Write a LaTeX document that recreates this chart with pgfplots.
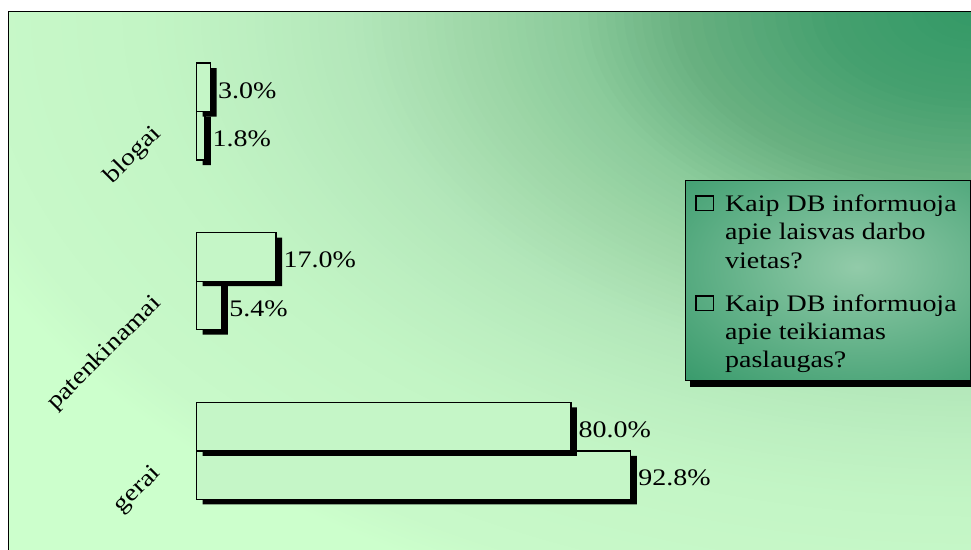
\documentclass[border=0pt]{standalone}
\usepackage{pgfplots}
\pgfplotsset{compat=1.18}
\usepackage{fontspec}
\setmainfont{Liberation Serif}[FakeStretch=1.18]

% background gradient stops (dark corner -> pale field)
\definecolor{bgA}{HTML}{339966}
\definecolor{bgB}{HTML}{45A06F}
\definecolor{bgC}{HTML}{68B080}
\definecolor{bgD}{HTML}{8BCB9B}
\definecolor{bgE}{HTML}{A0D8A9}
\definecolor{bgF}{HTML}{B2E6B9}
\definecolor{bgG}{HTML}{BCEFC0}
\definecolor{bgH}{HTML}{C3F5C5}
\definecolor{bgI}{HTML}{C8F9C9}
\definecolor{bgJ}{HTML}{CCFFCC}
\definecolor{barFill}{HTML}{C5F6C7}
\definecolor{legDark}{HTML}{36996A}
\definecolor{legLight}{HTML}{92CBA9}

\pgfdeclarelayer{chartback}
\pgfdeclarelayer{legendback}
\pgfsetlayers{chartback,legendback,main}

% line struts for the legend rows
\newcommand\lstrut[2]{\rule[-#1bp]{0pt}{#2bp}}

\begin{document}
\fontsize{23.7bp}{28.4bp}\selectfont
\begin{tikzpicture}[x=1bp,y=1bp]
\useasboundingbox (0,0) rectangle (971,550);

% chart area: elliptic gradient from the top right corner
\begin{pgfonlayer}{chartback}
\begin{scope}
  \clip (8.5,-20) rectangle (990,538.5);
  \fill[bgJ] (8.5,-20) rectangle (990,538.5);
  \foreach \to/\co/\ti/\ci in {1.0/bgJ/0.945/bgI, 0.945/bgI/0.775/bgH,
      0.775/bgH/0.675/bgG, 0.675/bgG/0.575/bgF, 0.575/bgF/0.475/bgE,
      0.475/bgE/0.375/bgD, 0.375/bgD/0.275/bgC, 0.275/bgC/0.14/bgB,
      0.14/bgB/0.0/bgA}{
    \foreach \m in {0,...,11}{
      \pgfmathsetmacro\t{\to-(\to-\ti)*\m/12}
      \pgfmathsetmacro\p{100*\m/12}
      \fill[\ci!\p!\co] (975,539) ellipse ({1080*\t} and {640*\t});
    }
  }
\end{scope}
\draw[line width=1.5bp] (8.5,-20) |- (990,538.5);
\end{pgfonlayer}

\begin{axis}[
  at={(196.5bp,14.25bp)}, anchor=south west,
  scale only axis, width=468bp, height=509bp,
  xmin=0, xmax=100, ymin=-0.5, ymax=2.5,
  xbar, bar width=48.5bp,
  clip=false,
  axis line style={draw=none}, tick style={draw=none},
  xtick=\empty, ytick={0,1,2},
  yticklabels={gerai,patenkinamai,blogai},
  yticklabel style={xshift=-34.5bp, yshift=-19bp, rotate=45, anchor=east, inner sep=0pt},
  shadow/.style={fill=black, draw=none, forget plot,
    transform canvas={shift={(6bp,-5bp)}}},
  bars/.style={draw=black, line width=1.3bp, fill=barFill,
    point meta=x,
    nodes near coords={\pgfmathprintnumber[fixed,fixed zerofill,precision=1,assume math mode=true]{\pgfplotspointmeta}\%},
    every node near coord/.append style={anchor=west, xshift=7bp, yshift=-3bp, inner sep=0pt, text=black}},
  legend image code/.code={\draw[black, fill=none, line width=1.5bp] (0.75bp,0.75bp) rectangle (18.25bp,15.25bp);},
  legend style={
    name=leg,
    at={(1.0438,0.6979)}, anchor=north west,
    draw=none, fill=none,
    inner xsep=10bp, inner ysep=0bp,
    row sep=0bp,
    nodes={inner sep=0pt, text height=, text depth=},
    cells={anchor=base west, text height=, text depth=},
    /tikz/every odd column/.style={column sep=11bp},
    /tikz/every even column/.style={column sep=0bp},
  },
]
% Kaip DB informuoja apie laisvas darbo vietas?
\addplot[shadow, bar shift=-24.25bp] coordinates {(92.8,0) (5.4,1) (1.8,2)};
\addplot[bars, bar shift=-24.25bp] coordinates {(92.8,0) (5.4,1) (1.8,2)};
\addlegendimage{empty legend}
\addlegendimage{empty legend}
% Kaip DB informuoja apie teikiamas paslaugas?
\addplot[shadow, bar shift=24.25bp] coordinates {(80.0,0) (17.0,1) (3.0,2)};
\addplot[bars, bar shift=24.25bp] coordinates {(80.0,0) (17.0,1) (3.0,2)};
\addlegendimage{empty legend}
\addlegendimage{empty legend}
\legend{\lstrut{8}{38.5}\makebox[235bp][l]{Kaip DB informuoja},
        \lstrut{8}{28.4}apie laisvas darbo,
        \lstrut{8}{28.4}vietas?,
        \lstrut{8}{43}Kaip DB informuoja,
        \lstrut{8}{28.4}apie teikiamas,
        \lstrut{12.7}{33.1}paslaugas?}
\end{axis}

% legend panel with its drop shadow and soft highlight
\begin{pgfonlayer}{legendback}
  \fill[black] ([shift={(5bp,-6bp)}]leg.south west) rectangle ([shift={(5bp,-6bp)}]leg.north east);
  \begin{scope}
    \clip (leg.south west) rectangle (leg.north east);
    \fill[legDark] (leg.south west) rectangle (leg.north east);
    \shade[inner color=legLight, outer color=legDark] (597,123) rectangle (1117,443);
  \end{scope}
  \draw[black, line width=0.8bp] (leg.south west) rectangle (leg.north east);
\end{pgfonlayer}
\end{tikzpicture}
\end{document}
